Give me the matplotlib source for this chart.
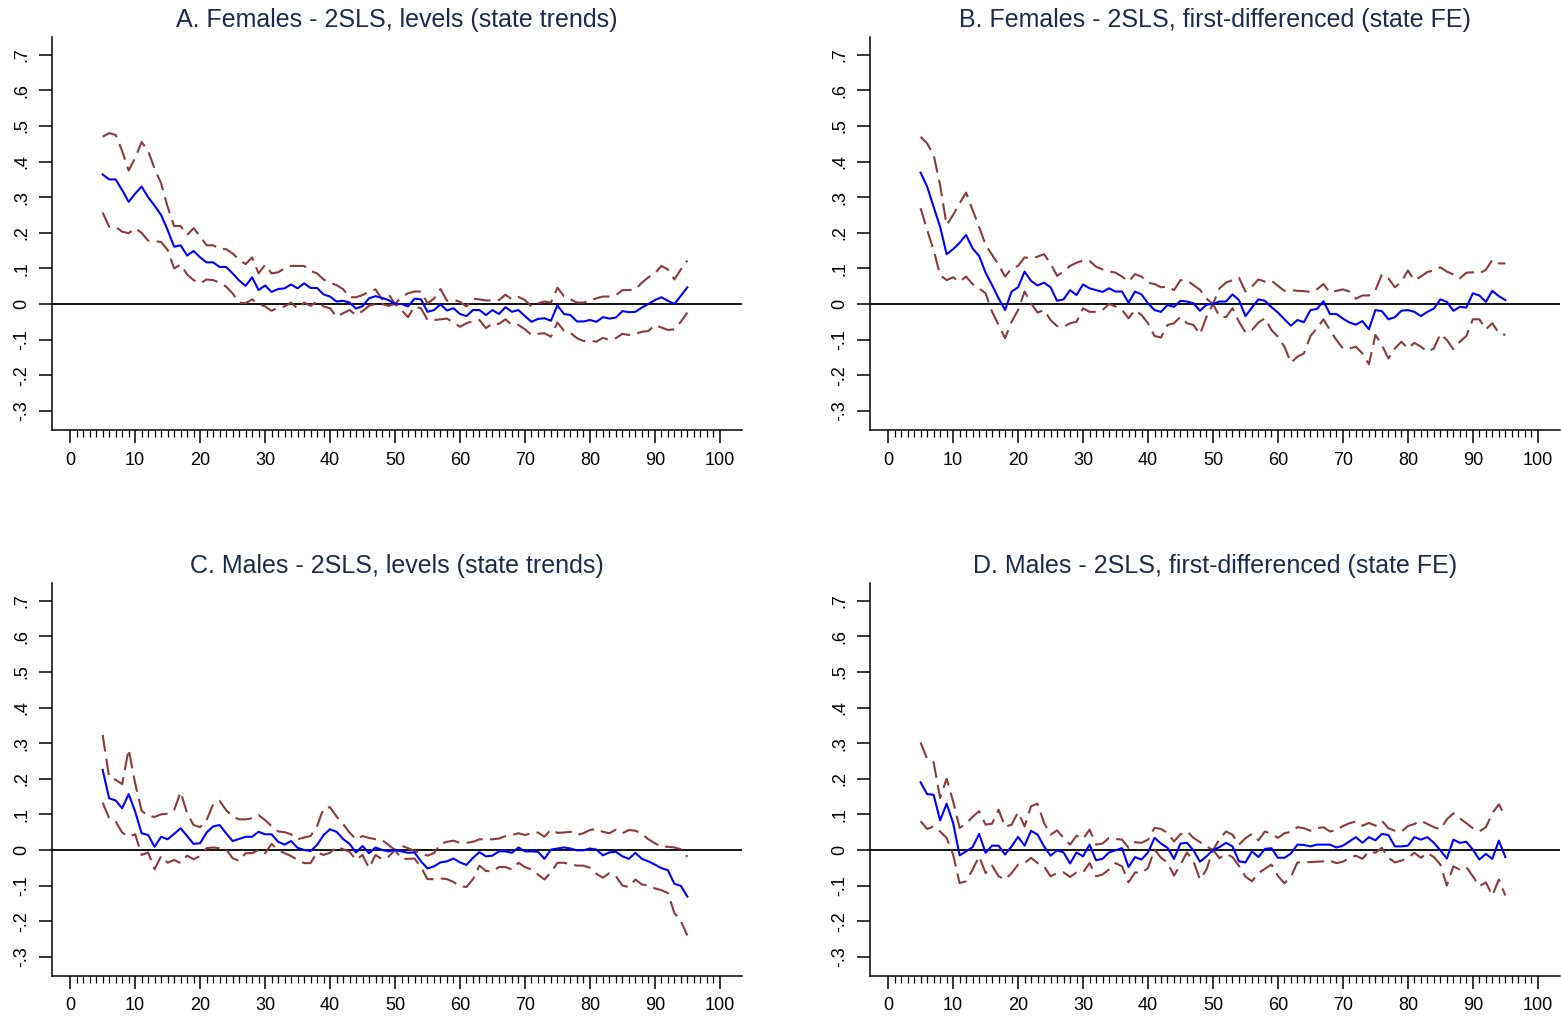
import numpy as np
import matplotlib
matplotlib.use("Agg")
import matplotlib.pyplot as plt
from matplotlib.ticker import FixedLocator

plt.rcParams["font.family"] = ["Liberation Sans", "DejaVu Sans"]

# percentile grid (x axis)
pct = np.arange(5, 96)

titles = [
    "A. Females - 2SLS, levels (state trends)",
    "B. Females - 2SLS, first-differenced (state FE)",
    "C. Males - 2SLS, levels (state trends)",
    "D. Males - 2SLS, first-differenced (state FE)",
]

# ---- panel A ----
a_est = [.364, .350, .350, .320, .287, .310, .330, .300, .276, .250,
         .208, .161, .165, .136, .149, .131, .117, .117, .104, .104,
         .086, .066, .051, .075, .039, .052, .034, .042, .044, .055,
         .044, .058, .045, .045, .027, .021, .007, .009, .004, -.013,
         -.006, .016, .022, .017, .011, .000,
         .000, -.007, .015, .013, -.022, -.017, -.001, -.018, -.012, -.028,
         -.034, -.017, -.017, -.031, -.017, -.028, -.009, -.022, -.017, -.034,
         -.050, -.042, -.040, -.047, -.004, -.028, -.031, -.049, -.049, -.045,
         -.050, -.037, -.041, -.038, -.020, -.023, -.022, -.010, .000, .011,
         .019, .009, .000, .023, .047]
a_hi = [.470, .480, .475, .430, .375, .410, .455, .430, .380, .339,
        .273, .219, .219, .194, .213, .190, .165, .165, .155, .154,
        .142, .125, .112, .131, .086, .110, .086, .089, .100, .107,
        .107, .107, .093, .086, .069, .060, .053, .042, .019, .019,
        .025, .035, .041, .013, .028, .000,
        .020, .030, .035, .035, .002, .015, .042, .009, .012, .006,
        -.007, .015, .013, .010, .010, .011, .026, .013, .020, .011,
        -.007, .002, .007, .004, .046, .022, .013, .004, .004, .009,
        .016, .021, .021, .025, .039, .039, .041, .060, .075, .086,
        .107, .097, .069, .097, .122]
a_lo = [.257, .217, .217, .203, .199, .213, .200, .178, .177, .174,
        .152, .100, .111, .083, .067, .058, .069, .067, .060, .049,
        .030, .004, .002, .013, .000, -.007, -.019, -.010, -.007, .004,
        -.013, .004, -.005, .007, -.007, -.012, -.036, -.026, -.017, -.031,
        -.020, -.005, .000, .000, -.005, .000,
        -.017, -.037, -.007, -.012, -.045, -.045, -.043, -.041, -.052, -.064,
        -.054, -.048, -.045, -.068, -.054, -.056, -.043, -.059, -.059, -.071,
        -.087, -.084, -.082, -.092, -.052, -.075, -.081, -.096, -.104, -.103,
        -.106, -.095, -.101, -.096, -.084, -.087, -.084, -.078, -.076, -.059,
        -.066, -.073, -.071, -.050, -.024]

# ---- panel B ----
b_est = [.369, .330, .273, .217, .140, .154, .172, .194, .156, .135,
         .088, .053, .016, -.017, .035, .047, .091, .065, .052, .060,
         .047, .009, .013, .039, .025, .055, .044, .039, .034, .044,
         .035, .035, .004, .035, .027, .002, -.017, -.022, -.003, -.008,
         .009, .007, .002, -.019, -.002, .000,
         .007, .007, .027, .011, -.034, -.010, .013, .009, -.009, -.024,
         -.043, -.061, -.045, -.051, -.017, -.014, .008, -.028, -.028, -.041,
         -.052, -.058, -.048, -.071, -.017, -.020, -.043, -.037, -.019, -.017,
         -.022, -.034, -.022, -.013, .013, .006, -.019, -.008, -.010, .030,
         .024, .006, .037, .022, .011]
b_hi = [.470, .451, .419, .334, .222, .250, .283, .313, .264, .217,
        .166, .138, .110, .077, .100, .107, .131, .128, .133, .140,
        .114, .079, .091, .107, .116, .122, .121, .105, .097, .092,
        .088, .077, .063, .084, .077, .060, .056, .047, .049, .039,
        .067, .066, .053, .040, .015, .000,
        .044, .060, .067, .074, .035, .049, .069, .063, .066, .051,
        .037, .039, .037, .036, .034, .041, .056, .032, .037, .041,
        .035, .015, .024, .024, .039, .083, .072, .047, .063, .094,
        .067, .077, .090, .094, .103, .091, .083, .072, .088, .089,
        .086, .096, .124, .114, .114]
b_lo = [.269, .208, .152, .081, .067, .075, .063, .077, .056, .044,
        .030, -.022, -.059, -.096, -.050, -.017, .035, .002, -.024, -.017,
        -.045, -.062, -.064, -.054, -.050, -.012, -.022, -.022, -.017, .000,
        -.007, -.017, -.040, -.017, -.031, -.054, -.090, -.094, -.059, -.054,
        -.036, -.054, -.059, -.085, -.036, .000,
        -.035, -.037, -.012, -.050, -.080, -.073, -.052, -.040, -.073, -.092,
        -.120, -.165, -.148, -.139, -.090, -.068, -.043, -.073, -.101, -.125,
        -.125, -.120, -.139, -.169, -.087, -.115, -.153, -.125, -.106, -.125,
        -.109, -.120, -.134, -.125, -.084, -.101, -.127, -.106, -.090, -.043,
        -.043, -.071, -.054, -.082, -.087]

# ---- panel C ----
c_est = [.225, .145, .139, .117, .157, .108, .047, .042, .009, .037,
         .030, .045, .061, .039, .017, .019, .049, .066, .070, .047,
         .025, .031, .037, .037, .051, .044, .044, .023, .015, .025,
         .006, .000, -.003, .014, .042, .058, .051, .031, .017, -.007,
         .011, -.009, .007, .000, -.004, .000,
         -.004, -.008, -.007, -.032, -.052, -.046, -.035, -.032, -.024, -.035,
         -.042, -.022, -.006, -.018, -.016, -.004, -.004, -.008, .007, -.004,
         -.004, -.005, -.025, .001, .004, .007, .004, -.001, -.001, .004,
         .001, -.015, -.007, -.005, -.018, -.025, -.008, -.025, -.032, -.041,
         -.051, -.057, -.095, -.101, -.131]
c_hi = [.323, .204, .197, .185, .283, .187, .110, .095, .093, .100,
        .102, .112, .163, .103, .070, .064, .084, .128, .138, .112,
        .094, .086, .086, .089, .098, .084, .067, .052, .050, .044,
        .030, .035, .039, .067, .117, .120, .094, .073, .049, .030,
        .039, .034, .030, .028, .014, .000,
        .012, .005, -.003, -.009, -.016, -.009, .017, .023, .026, .020,
        .020, .023, .030, .030, .030, .032, .039, .042, .047, .042,
        .047, .049, .037, .057, .048, .049, .051, .042, .047, .056,
        .059, .051, .047, .057, .047, .056, .054, .045, .030, .019,
        .009, .009, .007, .002, -.019]
c_lo = [.133, .089, .080, .049, .037, .044, -.014, -.007, -.054, -.017,
        -.036, -.028, -.037, -.016, -.026, -.017, .005, .007, .005, .002,
        -.023, -.031, -.009, -.009, .000, -.009, .017, .000, -.009, -.017,
        -.028, -.037, -.037, -.007, -.014, -.008, .009, .002, -.005, -.028,
        -.014, -.051, -.014, -.026, -.019, .000,
        -.025, -.025, -.024, -.049, -.082, -.082, -.080, -.082, -.090, -.102,
        -.104, -.082, -.044, -.059, -.060, -.048, -.048, -.055, -.036, -.048,
        -.055, -.069, -.083, -.063, -.036, -.036, -.040, -.044, -.044, -.050,
        -.067, -.078, -.065, -.074, -.100, -.104, -.083, -.097, -.100, -.108,
        -.113, -.121, -.177, -.200, -.240]

# ---- panel D ----
d_est = [.190, .157, .155, .083, .130, .076, -.015, -.004, .008, .045,
         -.008, .012, .012, -.013, .010, .037, .012, .054, .043, .010,
         -.016, -.001, -.007, -.038, -.007, -.018, .015, -.029, -.025, -.007,
         -.001, .005, -.048, -.020, -.027, -.007, .034, .018, .006, -.025,
         .018, .020, -.001, -.033, -.018, .000,
         .008, .020, .010, -.032, -.035, -.004, -.020, .003, .005, -.022,
         -.022, -.010, .015, .014, .010, .015, .015, .015, .007, .012,
         .024, .036, .020, .036, .027, .045, .042, .010, .010, .012,
         .036, .029, .036, .020, -.001, -.024, .029, .020, .023, .001,
         -.027, -.011, -.025, .026, -.020]
d_hi = [.302, .256, .246, .146, .200, .137, .062, .074, .093, .109,
        .071, .074, .113, .065, .071, .106, .066, .123, .130, .076,
        .043, .055, .034, .015, .040, .031, .057, .015, .018, .034,
        .031, .029, .006, .022, .020, .029, .062, .059, .048, .024,
        .044, .052, .034, .022, .010, .000,
        .030, .052, .043, .015, .033, .045, .027, .052, .045, .034,
        .047, .051, .064, .061, .054, .061, .064, .052, .056, .067,
        .075, .080, .068, .076, .068, .082, .061, .054, .052, .067,
        .073, .082, .073, .064, .058, .086, .103, .089, .075, .061,
        .052, .064, .103, .128, .095]
d_lo = [.081, .059, .066, .052, .034, -.013, -.093, -.088, -.055, -.018,
        -.065, -.044, -.074, -.083, -.065, -.041, -.037, -.022, -.037, -.046,
        -.074, -.065, -.063, -.076, -.063, -.063, -.037, -.074, -.069, -.055,
        -.037, -.046, -.091, -.063, -.065, -.051, .001, -.022, -.035, -.072,
        -.041, -.007, -.032, -.083, -.055, .000,
        -.023, -.011, -.020, -.045, -.075, -.088, -.065, -.053, -.041, -.073,
        -.094, -.075, -.035, -.035, -.034, -.033, -.032, -.030, -.037, -.033,
        -.022, -.016, -.025, -.004, -.008, .006, -.022, -.035, -.030, -.022,
        -.008, -.022, -.008, -.020, -.041, -.100, -.046, -.055, -.048, -.074,
        -.102, -.091, -.128, -.083, -.128]

yticks = [-.3, -.2, -.1, 0, .1, .2, .3, .4, .5, .6, .7]
ytick_labels = ["-.3", "-.2", "-.1", "0", ".1", ".2", ".3", ".4", ".5", ".6", ".7"]
xticks = list(range(0, 101, 10))

ci_color = "#8c3b3b"
est_color = "#0000ff"
title_color = "#1c2b4d"


def panel(ax, title, est, hi, lo):
    ax.axhline(0, color="black", lw=1.3, zorder=1)
    ax.plot(pct, hi, color=ci_color, lw=1.5, dashes=(8, 3.5), zorder=2)
    ax.plot(pct, lo, color=ci_color, lw=1.5, dashes=(8, 3.5), zorder=2)
    ax.plot(pct, est, color=est_color, lw=1.5, zorder=3)
    ax.set_xlim(-2.8, 103.4)
    ax.set_ylim(-0.354, 0.75)
    ax.set_title(title, color=title_color, fontsize=18, pad=7)
    for s in ["top", "right"]:
        ax.spines[s].set_visible(False)
    for s in ["left", "bottom"]:
        ax.spines[s].set_linewidth(1.1)
    ax.set_yticks(yticks)
    ax.set_yticklabels(ytick_labels, rotation=90, va="center")
    ax.set_xticks(xticks)
    ax.xaxis.set_minor_locator(FixedLocator(range(0, 101)))
    ax.tick_params(axis="y", length=9.5, width=1.1, labelsize=13, pad=6)
    ax.tick_params(axis="x", which="major", length=9.5, width=1.1, labelsize=13, pad=6)
    ax.tick_params(axis="x", which="minor", length=5, width=0.9)


fig = plt.figure(figsize=(15.61, 10.18), dpi=100)
boxes = [
    [0.0333, 0.5776, 0.442, 0.386],
    [0.5573, 0.5776, 0.442, 0.386],
    [0.0333, 0.0413, 0.442, 0.386],
    [0.5573, 0.0413, 0.442, 0.386],
]
series = [(a_est, a_hi, a_lo), (b_est, b_hi, b_lo),
          (c_est, c_hi, c_lo), (d_est, d_hi, d_lo)]
for box, title, (est, hi, lo) in zip(boxes, titles, series):
    ax = fig.add_axes(box)
    panel(ax, title, est, hi, lo)

fig.savefig("out.png", dpi=100)
